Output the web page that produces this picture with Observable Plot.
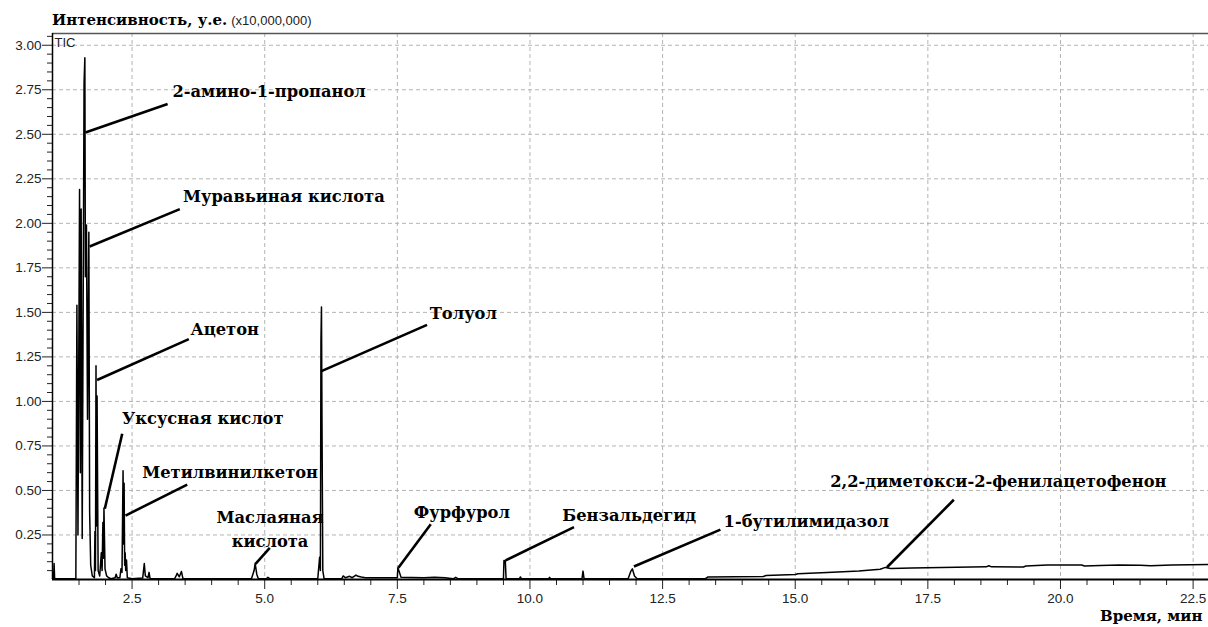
<!DOCTYPE html>
<html>
<head>
<meta charset="utf-8">
<script src="https://cdn.jsdelivr.net/npm/d3@7"></script>
<script src="https://cdn.jsdelivr.net/npm/@observablehq/plot@0.6"></script>
<style>
  html, body { margin: 0; padding: 0; background: #fff; overflow: hidden; }
  #wrap { position: relative; width: 1208px; height: 627px; overflow: hidden; }
  #chart { position: absolute; left: 0; top: 0; }
  #title { position: absolute; left: 52px; top: 12px; white-space: nowrap; line-height: 1; }
  #title b { font-family: "DejaVu Serif", serif; font-weight: bold; font-size: 15px; color: #000; }
  #title span { font-family: "Liberation Sans", Arial, sans-serif; font-size: 13px; color: #222; }
  #xlabel { position: absolute; left: 1100px; top: 609px; white-space: nowrap; line-height: 1;
            font-family: "DejaVu Serif", serif; font-weight: bold; font-size: 15px; color: #000; }
</style>
</head>
<body>
<div id="wrap">
  <div id="chart"></div>
  <div id="title"><b>Интенсивность, у.е.</b> <span>(x10,000,000)</span></div>
  <div id="xlabel">Время, мин</div>
</div>
<script>
// ---- chromatogram trace (time, min ; intensity, x10,000,000) ----
const times = [1.00, 1.02, 1.03, 1.04, 1.44, 1.46, 1.48, 1.51, 1.525, 1.54, 1.56, 1.595, 1.61, 1.62, 1.64, 1.66, 1.685, 1.70, 1.72, 1.75,
  1.79, 1.80, 1.81, 1.82, 1.83, 1.84, 1.86, 1.89, 1.92, 1.935, 1.95, 1.96, 1.97, 1.99, 2.02, 2.06,
  2.10, 2.18, 2.20, 2.22, 2.27, 2.29, 2.31, 2.33, 2.34, 2.35, 2.36, 2.37, 2.38, 2.395, 2.41, 2.50,
  2.70, 2.73, 2.75, 2.80, 2.82, 2.84, 3.30, 3.33, 3.35, 3.39, 3.43, 3.46,
  4.75, 4.80, 4.82, 4.85, 4.88, 5.03, 5.06, 5.10,
  6.00, 6.035, 6.05, 6.06, 6.07, 6.08, 6.095, 6.12,
  6.45, 6.48, 6.52, 6.60, 6.65, 6.72, 6.76, 6.82, 6.90, 7.20, 7.50, 7.51, 7.54, 7.57, 8.00, 8.20, 8.40, 8.55, 8.60, 8.65,
  9.50, 9.51, 9.535, 9.55, 9.80, 9.82, 9.84, 10.35, 10.37, 10.39, 10.98, 11.00, 11.02,
  11.85, 11.90, 11.93, 11.97, 12.02, 13.30, 13.35, 14.40, 14.45, 15.00, 15.05, 15.60, 16.20, 16.60, 16.70, 16.80, 17.20,
  18.60, 18.65, 18.70, 19.30, 19.35, 19.75, 20.40, 20.45, 20.75, 21.10, 21.50, 21.70, 22.10, 22.79];
const intensities = [0.004, 0.004, 0.09, 0.004, 0.004, 1.54, 0.25, 2.19, 0.60, 2.08, 0.23, 2.79, 2.93, 1.70, 1.99, 0.90, 1.95, 0.38, 0.08, 0.02,
  0.01, 0.27, 0.05, 1.20, 0.30, 1.03, 0.05, 0.02, 0.15, 0.05, 0.32, 0.12, 0.40, 0.06, 0.02, 0.01,
  0.004, 0.01, 0.03, 0.01, 0.01, 0.06, 0.04, 0.61, 0.20, 0.54, 0.08, 0.15, 0.05, 0.11, 0.01, 0.004,
  0.008, 0.09, 0.02, 0.01, 0.04, 0.004, 0.004, 0.02, 0.035, 0.015, 0.045, 0.004,
  0.004, 0.05, 0.09, 0.03, 0.004, 0.004, 0.012, 0.004,
  0.004, 0.125, 0.05, 1.34, 1.53, 0.88, 0.05, 0.004,
  0.004, 0.02, 0.01, 0.018, 0.01, 0.025, 0.018, 0.014, 0.01, 0.01, 0.01, 0.066, 0.04, 0.012, 0.01, 0.013, 0.01, 0.004, 0.012, 0.004,
  0.004, 0.107, 0.105, 0.004, 0.004, 0.014, 0.004, 0.004, 0.012, 0.004, 0.004, 0.047, 0.004,
  0.004, 0.045, 0.06, 0.02, 0.004, 0.004, 0.014, 0.017, 0.022, 0.028, 0.032, 0.04, 0.048, 0.058, 0.068, 0.062, 0.065,
  0.071, 0.077, 0.071, 0.07, 0.076, 0.082, 0.081, 0.076, 0.078, 0.082, 0.08, 0.077, 0.082, 0.084];

// ---- peak annotations ----
const labelNames = ["2-амино-1-пропанол", "Муравьиная кислота", "Ацетон", "Уксусная кислот", "Метилвинилкетон",
  "Маслаяная\nкислота", "Толуол", "Фурфурол", "Бензальдегид", "1-бутилимидазол", "2,2-диметокси-2-фенилацетофенон"];
const labelT = [3.26, 3.46, 3.60, 2.31, 2.69, 5.10, 8.11, 7.81, 10.61, 13.65, 15.66];
const labelV = [2.74, 2.151, 1.403, 0.903, 0.598, 0.295, 1.491, 0.373, 0.36, 0.323, 0.551];
const leaderFromT = [1.62, 1.70, 1.84, 1.986, 2.376, 4.827, 6.07, 7.52, 9.54, 11.96, 16.73];
const leaderFromV = [2.51, 1.87, 1.12, 0.397, 0.359, 0.088, 1.17, 0.066, 0.107, 0.073, 0.069];
const leaderToT = [3.17, 3.40, 3.57, 2.314, 3.539, 5.096, 8.06, 8.13, 10.83, 13.59, 17.99];
const leaderToV = [2.67, 2.08, 1.35, 0.818, 0.533, 0.178, 1.43, 0.31, 0.294, 0.28, 0.448];

// ---- axes ----
const xDomain = [1.0, 22.79];
const yDomain = [0, 3.066];
const xTicks = [2.5, 5.0, 7.5, 10.0, 12.5, 15.0, 17.5, 20.0, 22.5];
const xMinor = [1.5, 2, 3, 3.5, 4, 4.5, 5.5, 6, 6.5, 7, 8, 8.5, 9, 9.5, 10.5, 11, 11.5, 12, 13, 13.5, 14, 14.5,
  15.5, 16, 16.5, 17, 18, 18.5, 19, 19.5, 20.5, 21, 21.5, 22];
const yTicks = [0.25, 0.50, 0.75, 1.00, 1.25, 1.50, 1.75, 2.00, 2.25, 2.50, 2.75, 3.00];
const yMinor = [0.05, 0.1, 0.15, 0.2, 0.3, 0.35, 0.4, 0.45, 0.55, 0.6, 0.65, 0.7, 0.8, 0.85, 0.9, 0.95,
  1.05, 1.1, 1.15, 1.2, 1.3, 1.35, 1.4, 1.45, 1.55, 1.6, 1.65, 1.7, 1.8, 1.85, 1.9, 1.95,
  2.05, 2.1, 2.15, 2.2, 2.3, 2.35, 2.4, 2.45, 2.55, 2.6, 2.65, 2.7, 2.8, 2.85, 2.9, 2.95, 3.05];

const trace = times.map((t, i) => ({t, v: intensities[i]}));
const labels = labelNames.map((name, i) => ({name, t: labelT[i], v: labelV[i]}));
const leaders = leaderFromT.map((t, i) => ({t1: t, v1: leaderFromV[i], t2: leaderToT[i], v2: leaderToV[i]}));

const serif = "'DejaVu Serif', serif";
const sans = "'Liberation Sans', Arial, sans-serif";
const gridStyle = {stroke: "#b4b4b4", strokeOpacity: 1, strokeDasharray: "4,3", strokeWidth: 1};
const labelSize = 16.3;

const chart = Plot.plot({
  width: 1208,
  height: 627,
  marginLeft: 52,
  marginRight: 0,
  marginTop: 33,
  marginBottom: 48,
  style: {background: "white", color: "#222", overflow: "visible"},
  x: {domain: xDomain, axis: null, label: null},
  y: {domain: yDomain, axis: null, label: null},
  marks: [
    Plot.gridX(xTicks, gridStyle),
    Plot.gridY(yTicks, gridStyle),
    Plot.ruleY([yDomain[1]], {stroke: "#555", strokeWidth: 1.5}),
    Plot.axisY(yTicks, {tickSize: 10, tickPadding: 1, tickFormat: d => d.toFixed(2), fontSize: 13.5, fontFamily: sans, label: null}),
    Plot.axisY(yMinor, {tickSize: 5, tickFormat: () => "", label: null}),
    Plot.axisX(xTicks, {tickSize: 10, tickPadding: 4, tickFormat: d => d.toFixed(1), fontSize: 13.5, fontFamily: sans, label: null}),
    Plot.axisX(xMinor, {tickSize: 6, tickFormat: () => "", label: null}),
    Plot.line(trace, {x: "t", y: "v", stroke: "#000", strokeWidth: 1.5}),
    Plot.ruleX([xDomain[0]], {stroke: "#000", strokeWidth: 1.5}),
    Plot.ruleY([0], {stroke: "#000", strokeWidth: 2}),
    Plot.link(leaders, {x1: "t1", y1: "v1", x2: "t2", y2: "v2", stroke: "#000", strokeWidth: 2.6}),
    Plot.text(labels.filter(d => !d.name.includes("\n")), {x: "t", y: "v", text: "name", textAnchor: "start", lineAnchor: "middle",
      fontFamily: serif, fontWeight: "bold", fontSize: labelSize, fill: "#000"}),
    Plot.text(labels.filter(d => d.name.includes("\n")), {x: "t", y: "v", text: "name", textAnchor: "middle", lineAnchor: "middle",
      lineHeight: 1.49, fontFamily: serif, fontWeight: "bold", fontSize: labelSize, fill: "#000"}),
    Plot.text(["TIC"], {frameAnchor: "top-left", dx: 2, dy: 4, textAnchor: "start", lineAnchor: "top", fontFamily: sans, fontSize: 13, fill: "#222"})
  ]
});
document.getElementById("chart").appendChild(chart);
</script>
</body>
</html>
